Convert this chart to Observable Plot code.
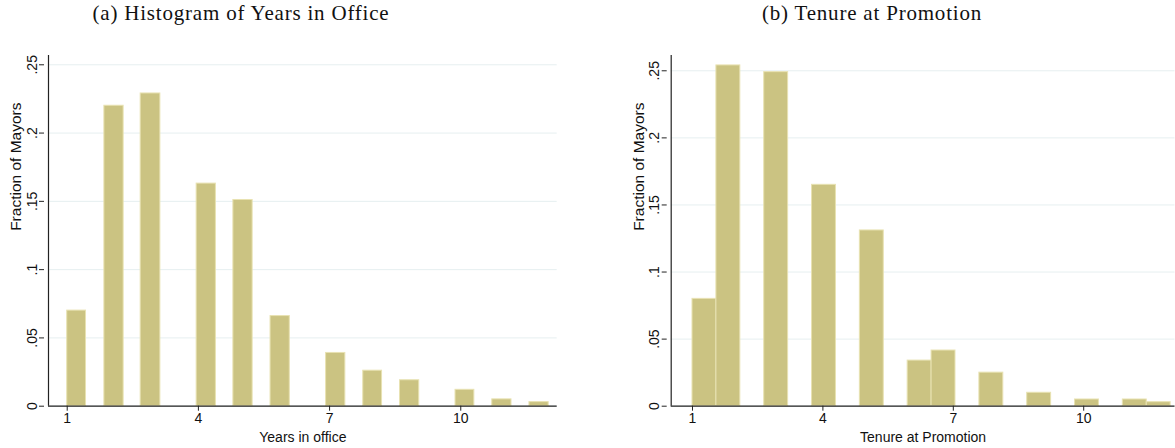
<!DOCTYPE html>
<html>
<head>
<meta charset="utf-8">
<script src="https://cdn.jsdelivr.net/npm/d3@7"></script>
<script src="https://cdn.jsdelivr.net/npm/@observablehq/plot@0.6"></script>
<style>
  html, body { margin: 0; padding: 0; background: #fff; }
  #wrap { position: relative; width: 1175px; height: 448px; overflow: hidden; }
  .title { position: absolute; top: 1px; font-family: "Liberation Serif", "DejaVu Serif", serif; font-size: 21px; letter-spacing: 0.8px; color: #111; white-space: nowrap; transform: translateX(-50%); }
  .panel { position: absolute; top: 40px; }
</style>
</head>
<body>
<div id="wrap">
  <div class="title" id="ta" style="left:241px">(a) Histogram of Years in Office</div>
  <div class="title" id="tb" style="left:872px">(b) Tenure at Promotion</div>
  <div class="panel" id="pa" style="left:0px"></div>
  <div class="panel" id="pb" style="left:600px"></div>
</div>
<script>
// Panel (a): Years in office
const yearsBinStart = [1, 1.85, 2.68, 3.96, 4.80, 5.65, 6.92, 7.77, 8.61, 9.88, 10.72, 11.57];
const yearsBinEnd   = [1.43, 2.29, 3.13, 4.40, 5.24, 6.09, 7.36, 8.20, 9.05, 10.31, 11.16, 12.01];
const yearsFraction = [0.070, 0.220, 0.229, 0.163, 0.151, 0.066, 0.039, 0.026, 0.019, 0.012, 0.005, 0.003];

// Panel (b): Tenure at promotion
const tenureBinStart = [1.00, 1.55, 2.65, 3.75, 4.85, 5.95, 6.50, 7.60, 8.70, 9.80, 10.90, 11.45];
const tenureBinEnd   = [1.55, 2.10, 3.20, 4.30, 5.40, 6.50, 7.05, 8.15, 9.25, 10.35, 11.45, 12.00];
const tenureFraction = [0.080, 0.254, 0.249, 0.165, 0.131, 0.034, 0.0415, 0.025, 0.010, 0.005, 0.005, 0.003];

const xTicks = [1, 4, 7, 10];
const yTicks = [0, 0.05, 0.1, 0.15, 0.2, 0.25];
const yTickLabels = ["0", ".05", ".1", ".15", ".2", ".25"];

const fillColor = "#cbc382";
const edgeColor = "#e8e2b2";
const gridColor = "#e6eff0";

function rows(starts, ends, vals) {
  return starts.map((s, i) => ({x1: s, x2: ends[i], y: vals[i]}));
}

function panel(data, opts) {
  return Plot.plot({
    width: opts.width,
    height: 408,
    marginLeft: opts.marginLeft,
    marginRight: opts.marginRight,
    marginTop: 15,
    marginBottom: 42.3,
    style: {fontFamily: "Liberation Sans, Arial, sans-serif", fontSize: "14px", color: "#111", background: "#fff", overflow: "visible"},
    x: {domain: opts.xDomain, ticks: xTicks, tickSize: 5, tickFormat: d => String(d), label: null},
    y: {domain: opts.yDomain, ticks: yTicks, tickSize: 5, label: null},
    marks: [
      Plot.ruleY(yTicks, {stroke: gridColor, strokeWidth: 1}),
      Plot.rectY(data, {x1: "x1", x2: "x2", y1: 0, y2: "y", fill: fillColor, stroke: edgeColor, strokeWidth: 1}),
      Plot.axisX({ticks: xTicks, tickSize: 5, tickPadding: 2, fontSize: 14, tickFormat: d => String(d), label: null, stroke: "#222"}),
      Plot.text([opts.xLabel], {frameAnchor: "bottom", dy: 36, fontSize: 14, fill: "#111", lineAnchor: "bottom"}),
      Plot.axisY({ticks: yTicks, tickSize: 5, tickPadding: 3, fontSize: 14, tickRotate: -90,
                  tickFormat: (d, i) => yTickLabels[yTicks.indexOf(d)], label: null, stroke: "#222", textAnchor: "middle", dx: -4}),
      Plot.text(["Fraction of Mayors"], {frameAnchor: "left", dx: opts.yLabelDx, rotate: -90, fontSize: 15.5, fill: "#111"}),
      Plot.ruleX([opts.xDomain[0]], {stroke: "#222", strokeWidth: 1.2}),
      Plot.ruleY([0], {stroke: "#222", strokeWidth: 1.2})
    ]
  });
}

document.getElementById("pa").appendChild(panel(rows(yearsBinStart, yearsBinEnd, yearsFraction), {
  width: 580, marginLeft: 48, marginRight: 23.3,
  xDomain: [0.572, 12.205], yDomain: [0, 0.2568],
  xLabel: "Years in office", yLabelDx: -32
}));
document.getElementById("pb").appendChild(panel(rows(tenureBinStart, tenureBinEnd, tenureFraction), {
  width: 575, marginLeft: 70.7, marginRight: 0.5,
  xDomain: [0.51, 12.1], yDomain: [0, 0.2614],
  xLabel: "Tenure at Promotion", yLabelDx: -32
}));
</script>
</body>
</html>
